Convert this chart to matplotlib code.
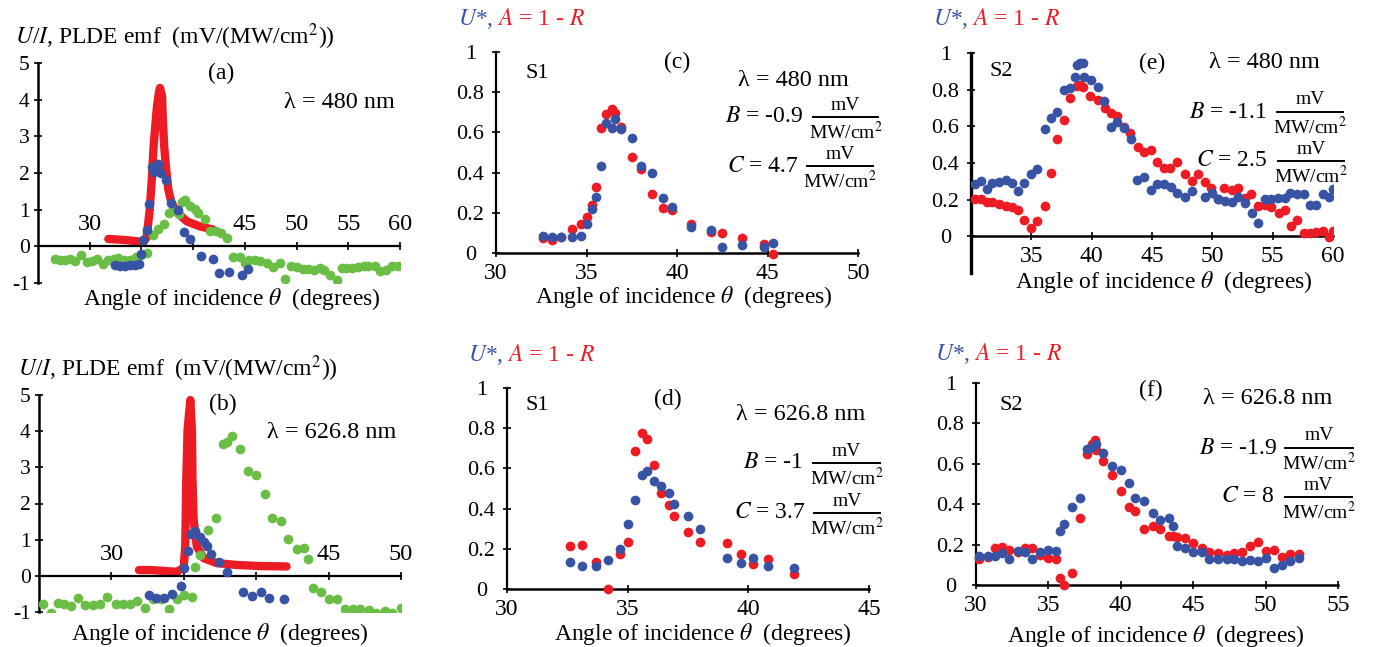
import matplotlib
matplotlib.use("Agg")
import matplotlib.pyplot as plt
from matplotlib.lines import Line2D

plt.rcParams['font.family'] = ['Liberation Serif', 'DejaVu Serif']
plt.rcParams['mathtext.fontset'] = 'stix'

RED = '#ED1C24'
BLUE = '#3953A4'
GREEN = '#6ABD45'
W, H = 1376, 647

# ---- (a) PLDE emf, 480 nm ----
a_red_x = [31.8, 32.5, 33.5, 34.5, 35.2, 35.5, 35.8, 36.0, 36.2, 36.5, 36.7, 36.8, 37.0, 37.07,
           37.2, 37.4, 37.6, 37.9, 38.45, 39.4, 40.7, 41.9]
a_red_y = [0.2, 0.19, 0.17, 0.14, 0.12, 0.24, 1.0, 1.82, 2.83, 3.81, 4.22, 4.32, 4.08, 3.45,
           2.72, 2.09, 1.55, 1.19, 0.92, 0.68, 0.54, 0.46]
a_blue_x = [32.4, 32.9, 33.4, 33.9, 34.4, 34.8, 35.0, 35.2, 35.5, 35.7, 36.0, 36.2, 36.5, 36.6,
            36.9, 37.4, 37.9, 38.5, 39.1, 39.7, 40.8, 41.9, 42.5, 43.5, 44.7, 45.3]
a_blue_y = [-0.5, -0.54, -0.54, -0.52, -0.5, -0.48, -0.2, 0.16, 0.45, 1.16, 2.17, 2.04, 2.2, 2.24,
            2.0, 1.8, 1.18, 0.98, 0.4, 0.2, -0.27, -0.34, -0.74, -0.7, -0.77, -0.63]
a_green_x = [26.6, 27.1, 27.6, 28.1, 28.6, 29.2, 29.7, 30.2, 30.7, 31.3, 31.8, 32.3, 32.7, 33.3,
             33.9, 34.5, 35.0, 35.5, 36.1, 36.6, 37.2, 37.7, 38.1, 38.6, 38.9, 39.2, 39.7, 40.2,
             40.5, 41.1, 41.6, 42.2, 42.7, 43.3, 43.9, 44.5, 45.0, 45.4, 46.0, 46.5, 47.1, 47.7,
             48.4, 48.9, 49.5, 50.0, 50.6, 51.1, 51.7, 52.3, 52.7, 53.2, 53.9, 54.4, 54.8, 55.4,
             55.9, 56.5, 56.9, 57.6, 58.1, 58.6, 59.2, 59.8]
a_green_y = [-0.34, -0.38, -0.36, -0.34, -0.39, -0.23, -0.43, -0.39, -0.34, -0.48, -0.36, -0.34,
             -0.32, -0.36, -0.38, -0.29, -0.23, -0.18, 0.32, 0.47, 0.6, 0.9, 0.98, 0.89, 1.22,
             1.27, 1.09, 1.01, 0.92, 0.74, 0.41, 0.43, 0.36, 0.22, -0.29, -0.29, -0.45, -0.36,
             -0.36, -0.41, -0.45, -0.56, -0.45, -0.89, -0.54, -0.56, -0.61, -0.63, -0.65, -0.59,
             -0.65, -0.77, -0.91, -0.59, -0.59, -0.59, -0.57, -0.53, -0.53, -0.54, -0.66, -0.65,
             -0.54, -0.53]

# ---- (b) PLDE emf, 626.8 nm ----
b_red_x = [31.9, 32.7, 33.5, 34.5, 34.99, 35.1, 35.17, 35.26, 35.45, 35.56, 35.6, 35.68, 35.9,
           36.37, 37.28, 38.66, 40.3, 42.1]
b_red_y = [0.16, 0.16, 0.14, 0.11, 0.22, 0.81, 2.65, 4.03, 4.86, 4.03, 2.65, 1.55, 0.81,
           0.49, 0.35, 0.3, 0.27, 0.26]
b_blue_x = [32.6, 33.1, 33.6, 34.2, 34.8, 35.0, 35.3, 35.5, 35.8, 36.1, 36.4, 36.6, 36.9, 37.4,
            38.0, 39.1, 39.7, 40.3, 40.9, 41.9]
b_blue_y = [-0.54, -0.6, -0.6, -0.49, -0.29, 0.23, 0.69, 1.17, 1.25, 1.08, 0.94, 0.82, 0.59, 0.37,
            0.11, -0.44, -0.56, -0.44, -0.61, -0.64]
b_green_x = [25.3, 25.8, 26.3, 26.7, 27.2, 27.7, 28.2, 28.7, 29.2, 29.7, 30.3, 30.8, 31.3, 31.8,
             32.3, 32.9, 33.4, 34.0, 34.5, 35.0, 35.6, 35.8, 36.1, 36.7, 37.2, 37.7, 38.0, 38.3,
             38.9, 39.4, 40.0, 40.6, 41.1, 41.7, 42.2, 42.8, 43.3, 43.6, 43.9, 44.5, 45.0, 45.6,
             46.1, 46.7, 47.2, 47.8, 48.3, 48.9, 49.4, 50.0]
b_green_y = [-0.78, -1.02, -0.75, -0.78, -0.84, -0.61, -0.81, -0.81, -0.78, -0.58, -0.78, -0.78,
             -0.78, -0.7, -0.9, -0.63, -0.63, -0.92, -0.65, -0.54, -0.58, 0.25, 0.57, 1.26, 1.61,
             3.64, 3.71, 3.87, 3.51, 2.91, 2.79, 2.25, 1.61, 1.52, 1.01, 0.73, 0.77, 0.46, -0.33,
             -0.44, -0.65, -0.65, -0.93, -0.93, -0.93, -0.95, -1.02, -0.97, -1.02, -0.9]

# ---- (c) S1, 480 nm ----
c_x = [32.6, 33.1, 33.6, 34.2, 34.7, 35.0, 35.3, 35.5, 35.8, 36.1, 36.4, 36.6, 36.9, 37.5, 38.0,
       38.6, 39.2, 39.7, 40.8, 41.9, 42.5, 43.6, 44.8, 45.3]
c_red = [0.074, 0.066, 0.079, 0.12, 0.144, 0.177, 0.24, 0.327, 0.62, 0.69, 0.716, 0.698, 0.628,
         0.476, 0.417, 0.293, 0.223, 0.215, 0.144, 0.104, 0.099, 0.073, 0.045, -0.005]
c_blue = [0.086, 0.079, 0.079, 0.079, 0.086, 0.145, 0.221, 0.281, 0.435, 0.648, 0.62, 0.666, 0.615,
          0.574, 0.435, 0.397, 0.273, 0.231, 0.129, 0.112, 0.03, 0.038, 0.028, 0.05]

# ---- (d) S1, 626.8 nm ----
d_x = [32.6, 33.1, 33.7, 34.2, 34.7, 35.0, 35.3, 35.6, 35.8, 36.1, 36.4, 36.7, 36.9, 37.5, 38.0,
       39.1, 39.7, 40.2, 40.8, 41.9]
d_red = [0.214, 0.221, 0.134, 0.0, 0.172, 0.234, 0.685, 0.778, 0.748, 0.619, 0.479, 0.416, 0.362,
         0.284, 0.234, 0.229, 0.172, 0.126, 0.151, 0.076]
d_blue = [0.134, 0.113, 0.113, 0.143, 0.197, 0.322, 0.444, 0.566, 0.585, 0.536, 0.512, 0.479,
          0.421, 0.362, 0.297, 0.154, 0.129, 0.154, 0.113, 0.106]

# ---- (e) S2, 480 nm ----
e_blue_x = [30.3, 30.8, 31.3, 31.7, 32.3, 32.9, 33.4, 33.9, 34.4, 35.0, 35.5, 36.1, 36.6, 37.1,
            37.67, 38.22, 38.58, 38.78, 39.0, 39.27, 39.38, 39.93, 40.51, 41.06, 41.62, 42.14,
            42.69, 43.24, 43.79, 44.34, 44.89, 45.45, 46.0, 46.55, 47.1, 47.73, 48.28, 49.39,
            49.94, 50.49, 51.04, 51.59, 52.14, 52.7, 53.25, 53.8, 54.35, 54.9, 55.45, 56.0,
            56.47, 57.02, 57.57, 58.07, 58.62, 59.17, 59.67, 60.0]
e_blue_y = [0.284, 0.303, 0.257, 0.293, 0.297, 0.306, 0.293, 0.248, 0.293, 0.339, 0.366, 0.583,
            0.643, 0.678, 0.797, 0.81, 0.87, 0.933, 0.946, 0.946, 0.87, 0.85, 0.813, 0.737,
            0.597, 0.623, 0.592, 0.533, 0.306, 0.324, 0.252, 0.284, 0.284, 0.27, 0.239, 0.217,
            0.248, 0.217, 0.236, 0.203, 0.194, 0.185, 0.212, 0.181, 0.13, 0.071, 0.203, 0.203,
            0.207, 0.207, 0.239, 0.23, 0.23, 0.172, 0.172, 0.23, 0.217, 0.257]
e_red_x = [30.3, 30.8, 31.3, 31.7, 32.3, 32.9, 33.4, 33.9, 34.4, 35.0, 35.5, 36.1, 36.6, 37.1,
           37.7, 38.2, 38.8, 39.0, 39.3, 39.9, 40.5, 41.1, 41.6, 42.1, 42.7, 43.2, 43.8, 44.3,
           44.9, 45.4, 46.0, 46.5, 47.1, 47.7, 48.3, 48.8, 49.4, 49.9, 50.5, 51.0, 51.6, 52.1,
           52.7, 53.2, 53.8, 54.4, 54.9, 55.5, 56.0, 56.5, 57.0, 57.6, 58.1, 58.6, 59.2, 59.7,
           60.0]
e_red_y = [0.203, 0.203, 0.19, 0.185, 0.179, 0.167, 0.158, 0.143, 0.089, 0.043, 0.082, 0.163,
           0.348, 0.533, 0.632, 0.752, 0.822, 0.828, 0.815, 0.768, 0.743, 0.701, 0.674, 0.656,
           0.598, 0.562, 0.487, 0.46, 0.471, 0.408, 0.371, 0.375, 0.408, 0.342, 0.303, 0.342,
           0.299, 0.261, 0.203, 0.261, 0.254, 0.266, 0.207, 0.23, 0.163, 0.172, 0.158, 0.127,
           0.145, 0.058, 0.089, 0.016, 0.016, 0.025, 0.027, -0.002, 0.027]

# ---- (f) S2, 626.8 nm ----
f_x = [30.2, 30.8, 31.3, 31.8, 32.3, 32.9, 33.4, 33.9, 34.4, 35.0, 35.5, 35.8, 36.1, 36.6, 37.2,
       37.7, 38.0, 38.3, 38.8, 39.4, 40.0, 40.6, 41.0, 41.6, 42.2, 42.7, 43.3, 43.6, 43.9, 44.4,
       45.0, 45.6, 46.1, 46.7, 47.3, 47.8, 48.4, 48.9, 49.5, 50.0, 50.6, 51.1, 51.7, 52.3]
f_blue = [0.145, 0.145, 0.145, 0.157, 0.129, 0.17, 0.162, 0.129, 0.162, 0.174, 0.17, 0.268, 0.302,
          0.385, 0.43, 0.674, 0.681, 0.699, 0.653, 0.587, 0.567, 0.504, 0.43, 0.417, 0.355, 0.322,
          0.331, 0.294, 0.195, 0.185, 0.162, 0.162, 0.129, 0.129, 0.129, 0.129, 0.121, 0.124,
          0.119, 0.132, 0.083, 0.099, 0.121, 0.132]
f_red = [0.129, 0.14, 0.182, 0.187, 0.174, 0.162, 0.182, 0.185, 0.149, 0.136, 0.129, 0.033, 0.0,
         0.058, 0.334, 0.65, 0.699, 0.669, 0.615, 0.545, 0.463, 0.388, 0.364, 0.278, 0.294, 0.278,
         0.245, 0.245, 0.24, 0.231, 0.207, 0.185, 0.162, 0.157, 0.149, 0.157, 0.162, 0.195, 0.212,
         0.17, 0.174, 0.137, 0.152, 0.152]
f_red_peak = (38.2, 0.716)

fig = plt.figure(figsize=(W / 100, H / 100), dpi=100)


def px_axes(l, t, r, b):
    return fig.add_axes([l / W, 1 - b / H, (r - l) / W, (b - t) / H])


def ft(x, y, s, **kw):
    return fig.text(x / W, 1 - y / H, s, **kw)


def unit_frac(x0, x1, y):
    fig.add_artist(Line2D([x0 / W, x1 / W], [1 - y / H, 1 - y / H], color='black', lw=1.4))
    xc = (x0 + x1) / 2
    ft(xc, y - 12, 'mV', ha='center', va='center', size=14)
    ft(xc, y + 15, 'MW/cm$^2$', ha='center', va='center', size=14)


XLAB = 'Angle of incidence $\\theta$  (degrees)'
MS = 7
FS = 17


def style_emf(ax, xmax, shown):
    ax.set_xlim(25, xmax)
    ax.set_ylim(-1, 5)
    ax.patch.set_visible(False)
    ax.spines['right'].set_visible(False)
    ax.spines['bottom'].set_visible(False)
    ax.spines['top'].set_position(('data', 0))
    ax.spines['left'].set_linewidth(1.8)
    ax.spines['top'].set_linewidth(1.6)
    ax.xaxis.tick_top()
    ticks = list(range(30, xmax + 1, 5))
    ax.set_xticks(ticks)
    ax.set_xticklabels([str(t) if t in shown else '' for t in ticks])
    ax.tick_params(axis='x', direction='inout', length=6, width=1.2, pad=5, labelsize=17.5)
    ax.set_yticks(range(-1, 6))
    ax.set_yticklabels([str(v) for v in range(-1, 6)])
    ax.tick_params(axis='y', direction='inout', length=6, width=1.2, pad=3, labelsize=15.5)


def style_abs(ax, xlim, ybot, lw=1.6):
    ax.set_xlim(*xlim)
    ax.set_ylim(ybot, 1)
    ax.patch.set_visible(False)
    ax.spines['right'].set_visible(False)
    ax.spines['top'].set_visible(False)
    ax.spines['bottom'].set_position(('data', 0))
    ax.spines['left'].set_linewidth(lw)
    ax.spines['bottom'].set_linewidth(1.8)
    ax.set_xticks(range(xlim[0], xlim[1] + 1, 5))
    ax.tick_params(axis='x', direction='inout', length=6, width=1.2, pad=4, labelsize=17)
    yt = [0, 0.2, 0.4, 0.6, 0.8, 1]
    ax.set_yticks(yt)
    ax.set_yticklabels(['0', '0.2', '0.4', '0.6', '0.8', '1'])
    ax.tick_params(axis='y', direction='inout', length=6, width=1.2, pad=15.5, labelsize=16)
    for lab in ax.get_yticklabels():
        lab.set_horizontalalignment('center')


def colored_label(x, y):
    t1 = ft(x, y, '$U$*,', color=BLUE, size=FS, va='baseline')
    fig.canvas.draw()
    bb = t1.get_window_extent()
    ft(bb.x1 + 4, y, '$A$ = 1 - $R$', color=RED, size=FS, va='baseline')


# (a)
ax = px_axes(38, 63, 400, 283)
style_emf(ax, 60, [30, 45, 50, 55, 60])
ax.plot(a_red_x, a_red_y, color=RED, lw=6, solid_capstyle='round', solid_joinstyle='round', zorder=2)
ax.plot(a_green_x, a_green_y, 'o', color=GREEN, ms=MS, mec='none', zorder=3)
ax.plot(a_blue_x, a_blue_y, 'o', color=BLUE, ms=MS, mec='none', zorder=4)
ft(15, 37, '$U$/$I$, PLDE emf  (mV/(MW/cm$^2$))', size=FS, va='center')
ft(221, 73, '(a)', size=FS, ha='center', va='center')
ft(339, 103, '\u03bb = 480 nm', size=17.5, ha='center', va='center')
ft(232, 299, XLAB, size=FS, ha='center', va='center')

# (b)
ax = px_axes(39, 395, 401, 612)
style_emf(ax, 50, [30, 45, 50])
ax.plot(b_red_x, b_red_y, color=RED, lw=6, solid_capstyle='round', solid_joinstyle='round', zorder=2)
ax.plot(b_green_x, b_green_y, 'o', color=GREEN, ms=MS, mec='none', zorder=3)
ax.plot(b_blue_x, b_blue_y, 'o', color=BLUE, ms=MS, mec='none', zorder=4)
ft(18, 369, '$U$/$I$, PLDE emf  (mV/(MW/cm$^2$))', size=FS, va='center')
ft(223, 404, '(b)', size=FS, ha='center', va='center')
ft(332, 433, '\u03bb = 626.8 nm', size=17.5, ha='center', va='center')
ft(220, 634, XLAB, size=FS, ha='center', va='center')

# (c)
ax = px_axes(496, 52, 858, 253)
style_abs(ax, (30, 50), 0)
ax.plot(c_x, c_red, 'o', color=RED, ms=MS, mec='none', clip_on=False, zorder=3)
ax.plot(c_x, c_blue, 'o', color=BLUE, ms=MS, mec='none', clip_on=False, zorder=4)
colored_label(458, 25)
ft(537, 73, 'S1', size=16, ha='center', va='center')
ft(677, 62, '(c)', size=FS, ha='center', va='center')
ft(793, 80, '\u03bb = 480 nm', size=17.5, ha='center', va='center')
ft(803, 117, '$B$ = -0.9', size=FS, ha='right', va='center')
unit_frac(813, 878, 117)
ft(799, 166, '$C$ = 4.7', size=FS, ha='right', va='center')
unit_frac(807, 873, 166)
ft(684, 297, XLAB, size=FS, ha='center', va='center')

# (d)
ax = px_axes(507, 388, 869, 589)
style_abs(ax, (30, 45), 0)
ax.plot(d_x, d_red, 'o', color=RED, ms=MS, mec='none', clip_on=False, zorder=3)
ax.plot(d_x, d_blue, 'o', color=BLUE, ms=MS, mec='none', clip_on=False, zorder=4)
colored_label(468, 361)
ft(537, 405, 'S1', size=16, ha='center', va='center')
ft(668, 399, '(d)', size=FS, ha='center', va='center')
ft(801, 414, '\u03bb = 626.8 nm', size=17.5, ha='center', va='center')
ft(803, 463, '$B$ = -1', size=FS, ha='right', va='center')
unit_frac(813, 880, 463)
ft(806, 513, '$C$ = 3.7', size=FS, ha='right', va='center')
unit_frac(814, 880, 513)
ft(703, 634, XLAB, size=FS, ha='center', va='center')

# (e)
ax = px_axes(971, 53, 1333, 273)
style_abs(ax, (30, 60), -0.2, lw=2.4)
ax.set_xticklabels(['', '35', '40', '45', '50', '55', '60'])
ax.plot(e_red_x, e_red_y, 'o', color=RED, ms=MS, mec='none', zorder=3)
ax.plot(e_blue_x, e_blue_y, 'o', color=BLUE, ms=MS, mec='none', zorder=4)
colored_label(933, 25)
ft(1001, 72, 'S2', size=16, ha='center', va='center')
ft(1152, 63, '(e)', size=FS, ha='center', va='center')
ft(1264, 63, '\u03bb = 480 nm', size=17.5, ha='center', va='center')
ft(1267, 112, '$B$ = -1.1', size=FS, ha='right', va='center')
unit_frac(1277, 1343, 112)
ft(1267, 161, '$C$ = 2.5', size=FS, ha='right', va='center')
unit_frac(1278, 1344, 161)
ft(1164, 282, XLAB, size=FS, ha='center', va='center')

# (f)
ax = px_axes(976, 383, 1338, 585)
style_abs(ax, (30, 55), 0)
ax.plot(f_x, f_red, 'o', color=RED, ms=MS, mec='none', clip_on=False, zorder=3)
ax.plot(*f_red_peak, 'o', color=RED, ms=MS, mec='none', zorder=3)
ax.plot(f_x, f_blue, 'o', color=BLUE, ms=MS, mec='none', clip_on=False, zorder=4)
colored_label(935, 360)
ft(1011, 406, 'S2', size=16, ha='center', va='center')
ft(1151, 390, '(f)', size=FS, ha='center', va='center')
ft(1268, 399, '\u03bb = 626.8 nm', size=17.5, ha='center', va='center')
ft(1277, 448, '$B$ = -1.9', size=FS, ha='right', va='center')
unit_frac(1285, 1353, 448)
ft(1275, 497, '$C$ = 8', size=FS, ha='right', va='center')
unit_frac(1285, 1352, 497)
ft(1156, 636, XLAB, size=FS, ha='center', va='center')

fig.savefig('out.png', dpi=100)
